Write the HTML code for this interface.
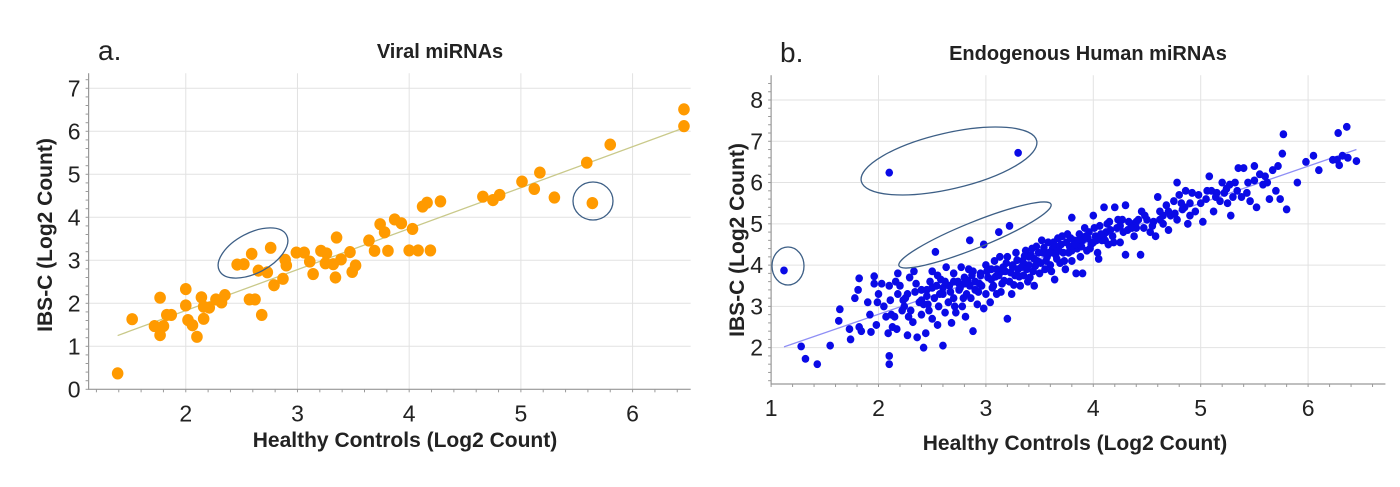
<!DOCTYPE html>
<html><head><meta charset="utf-8"><style>
body{margin:0;background:#fff;}
svg{display:block;font-family:"Liberation Sans",sans-serif;}
</style></head><body>
<svg id="svg" width="1400" height="487" viewBox="0 0 1400 487">
<g id="ga"></g>
<g id="gb"></g>
<text x="98" y="60" font-size="28" fill="#222">a.</text>
<text x="440" y="58" font-size="20" font-weight="bold" fill="#222" text-anchor="middle">Viral miRNAs</text>
<text x="780" y="62" font-size="28" fill="#222">b.</text>
<text x="1088" y="60" font-size="20" font-weight="bold" fill="#222" text-anchor="middle">Endogenous Human  miRNAs</text>
<text x="405" y="447" font-size="21" font-weight="bold" fill="#222" text-anchor="middle">Healthy Controls (Log2 Count)</text>
<text x="1075" y="450" font-size="21" font-weight="bold" fill="#222" text-anchor="middle">Healthy Controls (Log2 Count)</text>
<text transform="translate(52,235) rotate(-90)" font-size="21" font-weight="bold" fill="#222" text-anchor="middle">IBS-C (Log2 Count)</text>
<text transform="translate(744,240) rotate(-90)" font-size="21" font-weight="bold" fill="#222" text-anchor="middle">IBS-C (Log2 Count)</text>
</svg>
<script>
const viralX=[1.39,1.52,1.77,1.72,1.80,1.77,1.83,1.87,2.0,2.0,2.02,2.06,2.10,2.14,2.16,2.16,2.21,2.27,2.32,2.35,2.46,2.52,2.59,2.76,2.57,2.62,2.65,2.73,2.68,2.79,2.87,2.89,2.90,2.99,3.06,3.11,3.14,3.21,3.26,3.25,3.32,3.35,3.34,3.39,3.47,3.49,3.52,3.64,3.69,3.74,3.78,3.81,3.87,3.93,4.00,4.03,4.08,4.12,4.16,4.19,4.28,4.66,4.75,4.81,5.01,5.12,5.17,5.30,5.59,5.64,5.80,6.46,6.46];
const viralY=[0.37,1.63,2.13,1.47,1.47,1.26,1.73,1.73,2.33,1.95,1.61,1.49,1.22,2.14,1.92,1.64,1.90,2.09,2.02,2.19,2.90,2.91,3.15,3.29,2.09,2.09,2.76,2.72,1.73,2.42,2.57,3.01,2.88,3.18,3.18,2.97,2.68,3.22,3.16,2.93,2.91,3.53,2.60,3.02,3.19,2.73,2.88,3.46,3.22,3.84,3.65,3.22,3.95,3.86,3.23,3.73,3.23,4.25,4.34,3.23,4.37,4.48,4.40,4.52,4.83,4.66,5.04,4.46,5.27,4.33,5.69,6.12,6.51];
const viralFit=[[1.39,1.25],[6.46,6.08]];
const viralXTicks=[2,3,4,5,6];
const viralYTicks=[0,1,2,3,4,5,6,7];
const humanPts="1.12,3.87 2.1,6.24 3.3,6.72 2.53,4.32 2.85,4.6 3.12,4.8 3.22,4.95 2.98,4.5 1.28,2.03 1.32,1.73 1.43,1.6 2.1,1.6 2.1,1.8 1.55,2.05 1.64,2.93 1.63,2.65 1.73,2.45 1.74,2.2 1.78,3.2 1.81,3.4 1.82,3.68 1.82,2.5 1.84,2.4 1.9,3.1 1.92,2.8 1.93,2.38 1.96,3.55 1.96,3.73 1.99,3.1 2.0,3.3 1.98,2.55 2.03,3.55 2.07,2.75 2.09,2.35 2.1,3.5 2.11,3.15 2.12,2.8 2.13,2.5 2.15,2.75 2.16,3.6 2.17,2.45 2.18,3.8 2.2,3.5 2.22,2.9 2.24,3.0 2.27,3.3 2.27,2.3 2.29,3.7 2.3,2.9 2.32,2.62 2.33,3.85 2.34,3.35 2.36,2.25 2.38,3.1 2.4,2.8 2.4,3.4 2.42,2.0 2.42,3.05 2.44,2.35 2.45,3.25 2.47,2.9 2.48,3.6 2.5,3.85 2.5,2.7 2.52,3.2 2.54,3.5 2.55,2.55 2.56,3.0 2.58,3.65 2.6,2.05 2.6,3.3 2.62,2.85 2.63,3.95 2.65,3.1 2.66,3.5 2.68,2.6 2.7,3.8 2.7,3.2 2.72,2.85 2.74,3.6 2.75,3.4 2.77,3.95 2.78,3.0 2.8,3.7 2.81,2.75 2.82,3.3 2.84,3.9 2.85,3.5 2.86,3.2 2.88,2.4 2.88,3.85 2.9,3.6 2.92,3.05 2.93,3.35 2.95,3.75 2.96,3.5 2.98,2.95 3.0,4.0 3.0,3.3 3.02,3.7 3.04,3.1 3.05,3.9 3.07,3.5 3.08,4.1 3.1,3.3 3.12,3.75 3.13,4.2 3.15,3.55 3.16,3.95 3.18,3.85 3.2,2.7 3.2,4.2 3.22,3.6 3.24,3.3 3.25,4.0 3.27,3.75 3.28,4.3 3.3,3.9 3.32,3.5 3.34,4.1 3.35,3.75 3.37,4.35 3.39,3.6 3.4,4.0 3.42,4.25 3.44,3.85 3.45,3.5 3.47,4.45 3.48,4.1 3.5,3.8 3.52,4.6 3.53,4.3 3.55,3.9 3.57,4.2 3.58,4.55 3.6,4.0 3.62,4.4 3.64,3.65 3.65,4.25 3.67,4.65 3.69,4.05 3.7,4.5 3.72,4.3 3.74,3.9 3.76,4.75 3.78,4.45 3.8,5.15 3.8,4.1 3.82,4.6 3.84,3.8 3.85,4.4 3.87,4.75 3.88,4.2 3.9,3.8 3.9,4.6 3.92,4.9 3.94,4.35 3.96,4.8 3.98,4.5 4.0,5.2 4.02,4.7 4.04,4.3 4.05,4.15 4.06,4.95 4.08,4.6 4.1,5.4 4.12,4.8 4.14,4.5 4.15,5.05 4.18,4.7 4.2,5.4 4.22,4.9 4.25,4.55 4.27,5.1 4.3,4.25 4.3,5.45 4.32,4.85 4.35,5.0 4.38,4.7 4.4,5.05 4.44,4.25 4.45,5.3 4.47,4.9 4.5,5.1 4.53,4.8 4.56,5.05 4.58,4.7 4.6,5.65 4.62,5.3 4.65,5.0 4.68,5.45 4.7,4.85 4.72,5.2 4.75,5.55 4.78,6.0 4.78,5.1 4.8,5.7 4.83,5.35 4.86,5.8 4.88,5.0 4.9,5.5 4.92,5.75 4.95,5.3 4.98,5.7 5.02,5.05 5.05,5.6 5.08,6.15 5.1,5.8 5.12,5.3 5.15,5.75 5.18,5.55 5.2,6.0 5.22,5.75 5.25,5.5 5.27,5.95 5.28,5.2 5.3,5.65 5.32,6.0 5.35,6.35 5.38,5.65 5.4,6.35 5.43,5.75 5.46,5.55 5.5,6.4 5.5,6.05 5.52,5.4 5.55,6.2 5.58,5.95 5.62,6.0 5.64,5.6 5.67,6.3 5.7,5.8 5.72,6.4 5.74,5.6 5.76,6.7 5.77,7.17 5.8,5.35 5.9,6.0 5.98,6.5 6.05,6.65 6.1,6.3 6.23,6.55 6.28,7.2 6.29,6.42 6.32,6.65 6.36,7.35 6.37,6.6 6.45,6.52 6.27,6.55 2.6,3.45 2.75,3.55 2.9,3.4 3.05,3.65 3.15,3.85 3.35,4.05 3.45,4.15 3.55,4.3 3.65,4.45 3.75,4.55 3.95,4.65 4.1,4.75 4.25,4.95 4.4,4.9 4.65,5.2 4.85,5.4 2.25,3.2 2.45,3.4 2.55,3.75 2.7,3.6 2.8,3.55 2.95,3.8 3.1,3.9 3.25,3.95 3.4,4.2 3.6,4.3 3.8,4.35 4.0,4.55 2.76,3.45 2.83,3.62 2.87,3.75 2.94,3.55 3.01,3.85 3.06,3.45 3.09,3.72 3.14,3.35 3.17,3.62 3.19,4.05 3.23,3.82 3.26,3.52 3.29,4.12 3.31,3.72 3.33,3.95 3.36,4.22 3.38,3.9 3.41,3.7 3.43,4.4 3.46,3.98 3.49,4.3 3.51,4.05 3.54,4.42 3.56,4.1 3.59,4.3 3.61,3.85 3.63,4.55 3.66,4.15 3.68,4.35 3.71,4.7 3.73,4.1 3.77,4.3 3.79,4.65 3.83,4.5 3.86,4.6 3.89,4.45 3.93,4.7 3.97,4.4 4.01,4.9 4.03,4.6 4.07,4.75 4.11,4.6 4.13,5.0 4.16,4.85 4.19,4.55 4.23,5.1 4.28,4.8 4.33,5.05 4.36,4.9 4.42,5.1 4.48,5.2 4.55,4.95 4.62,5.1 4.7,5.3 4.76,5.25 4.82,5.5 4.9,5.2 5.0,5.5 5.06,5.8 5.14,5.65 5.24,5.85 5.34,5.8 5.44,6.0 5.6,6.15 2.35,3.55 2.4,3.15 2.46,3.05 2.5,3.45 2.57,3.3 2.62,3.6 2.67,3.35 2.71,3.0 2.79,3.2 2.18,3.3 2.23,3.15 2.28,2.75 2.05,3.0";
const humanX=humanPts.split(" ").map(p=>+p.split(",")[0]);
const humanY=humanPts.split(" ").map(p=>+p.split(",")[1]);
const humanFit=[[1.12,2.02],[6.45,6.8]];
const humanXTicks=[1,2,3,4,5,6];
const humanYTicks=[2,3,4,5,6,7,8];

const NS="http://www.w3.org/2000/svg";
function mk(parent,tag,attrs){const e=document.createElementNS(NS,tag);for(const k in attrs)e.setAttribute(k,attrs[k]);parent.appendChild(e);return e;}

function chart(g,cfg){
  const sx=v=>cfg.x0+(v-cfg.xmin)*cfg.kx, sy=v=>cfg.y0-(v-cfg.ymin)*cfg.ky;
  const L=sx(cfg.xmin),R=sx(cfg.xmax),B=sy(cfg.ymin),T=sy(cfg.ymax);
  cfg.xt.forEach(t=>{const l=mk(g,"line",{x1:sx(t),x2:sx(t),y1:T,y2:B,stroke:"#e2e2e2","stroke-width":1});
    
    const tx=mk(g,"text",{x:sx(t),y:B+32,"font-size":23,fill:"#222","text-anchor":"middle"});tx.textContent=t;
    });
  cfg.yt.forEach(t=>{const l=mk(g,"line",{x1:L,x2:R,y1:sy(t),y2:sy(t),stroke:"#e2e2e2","stroke-width":1});
    
    const tx=mk(g,"text",{x:L-8,y:sy(t)+8,"font-size":23,fill:"#222","text-anchor":"end"});tx.textContent=t;
    });
  for(let v=Math.ceil(cfg.xmin*5)/5;v<=cfg.xmax;v+=0.2){mk(g,"line",{x1:sx(v),x2:sx(v),y1:B,y2:B+3,stroke:"#999"});}
  for(let v=Math.ceil(cfg.ymin*5)/5;v<=cfg.ymax;v+=0.2){mk(g,"line",{x1:L-3,x2:L,y1:sy(v),y2:sy(v),stroke:"#999"});}
  const ax=mk(g,"path",{d:`M${L},${T}V${B}H${R}`,fill:"none",stroke:"#999","stroke-width":1.2});
  
  const f=mk(g,"line",{x1:sx(cfg.fit[0][0]),y1:sy(cfg.fit[0][1]),x2:sx(cfg.fit[1][0]),y2:sy(cfg.fit[1][1]),stroke:cfg.fitc,"stroke-width":1.3});
  
  cfg.X.forEach((x,i)=>{const c=mk(g,"ellipse",{cx:sx(x),cy:sy(cfg.Y[i]),rx:cfg.r,ry:cfg.r*1.05,fill:cfg.col});
    });
  cfg.ell.forEach(e=>{const el=mk(g,"ellipse",{cx:e[0],cy:e[1],rx:e[2],ry:e[3],transform:`rotate(${e[4]} ${e[0]} ${e[1]})`,fill:"none",stroke:"#3d5f86","stroke-width":1.3});
    });
}
chart(document.getElementById("ga"),{x0:88.6,xmin:1.13,xmax:6.52,kx:111.7,y0:389.3,ymin:0,ymax:7.35,ky:43,
  X:viralX,Y:viralY,fit:viralFit,fitc:"#c9c98a",col:"#ff9a00",r:5.8,xt:viralXTicks,yt:viralYTicks,
  ell:[[253,253,38,20,-28],[593,201,20,19,0]]});
chart(document.getElementById("gb"),{x0:771.1,xmin:1,xmax:6.72,kx:107.4,y0:384,ymin:1.12,ymax:8.6,ky:41.28,
  X:humanX,Y:humanY,fit:humanFit,fitc:"#8f8ff5",col:"#0a0ae6",r:3.8,xt:humanXTicks,yt:humanYTicks,
  ell:[[949,161,90,28,-13],[975,235,82,13,-22],[788,266,16,19,0]]});
</script>
</body></html>
